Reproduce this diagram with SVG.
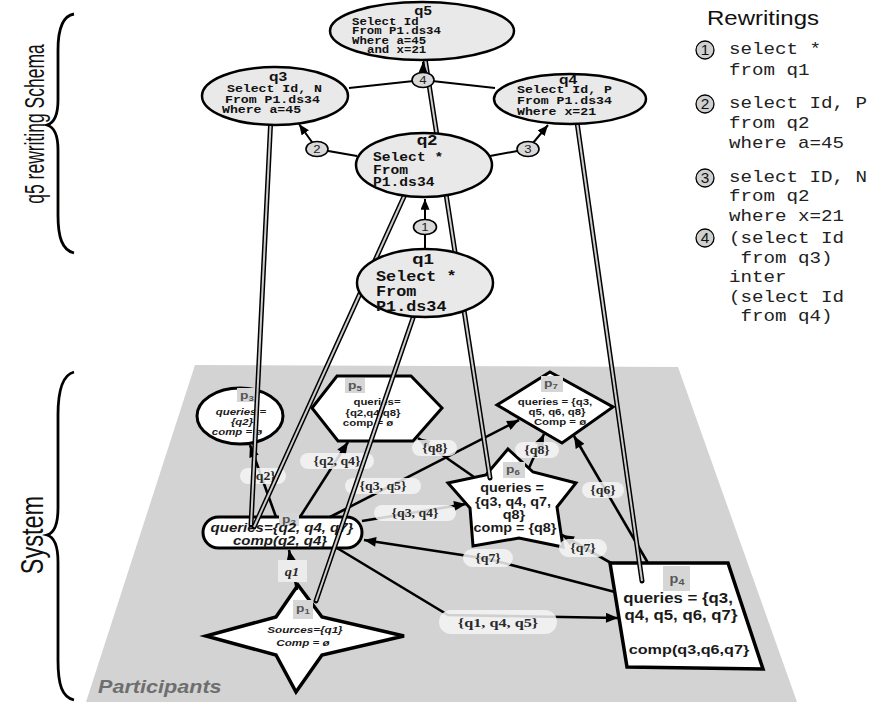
<svg xmlns="http://www.w3.org/2000/svg" width="874" height="702" viewBox="0 0 874 702">
<defs>
<marker id="ah" viewBox="0 0 12 10" refX="12" refY="5" markerWidth="13" markerHeight="10" markerUnits="userSpaceOnUse" orient="auto"><path d="M0,0 L12,5 L0,10 z" fill="#000"/></marker>
<marker id="ahq" viewBox="0 0 12 10" refX="12" refY="5" markerWidth="11" markerHeight="9" markerUnits="userSpaceOnUse" orient="auto"><path d="M0,0 L12,5 L0,10 z" fill="#000"/></marker>
</defs>
<style>
.mono{font-family:"Liberation Mono","Courier New",monospace;font-weight:bold;fill:#111}
.rw{font-family:"Liberation Mono","Courier New",monospace;font-size:16px;fill:#222}
.qt{font-family:"Liberation Sans",Arial,sans-serif;font-weight:bold;text-anchor:middle;fill:#111}
.side{font-family:"Liberation Sans",Arial,sans-serif;text-anchor:middle;fill:#111}
.nb{font-family:"Liberation Sans",Arial,sans-serif;font-weight:bold;text-anchor:middle;fill:#1a1a1a}
.it{font-style:italic}
.el{font-family:"Liberation Serif","Times New Roman",serif;font-weight:bold;text-anchor:middle;fill:#2a2a2a;font-size:11.5px}
.pill{fill:#f4f4f4;fill-opacity:0.85}
.edge{stroke:#000;stroke-width:2.6;fill:none}
.qe{stroke:#000;stroke-width:2;fill:none}
.node{fill:#fff;stroke:#000;stroke-width:3;stroke-linejoin:miter}
.qn{fill:#e9e9e9;stroke:#000;stroke-width:2.5}
.ro{stroke:#000;stroke-width:5;stroke-linecap:round;fill:none}
.ri{stroke:#cdcdcd;stroke-width:2;fill:none}
.lb{fill:#d6d6d6}
.lbt{font-family:"Liberation Sans",Arial,sans-serif;font-weight:bold;font-size:11.5px;fill:#555;text-anchor:middle}
.num{fill:#d9d9d9;stroke:#000;stroke-width:1.6}
.numt{font-family:"Liberation Sans",Arial,sans-serif;font-size:11px;text-anchor:middle;fill:#222}
.rnum{fill:#d0d0d0;stroke:#000;stroke-width:1.3}
.rnumt{font-family:"Liberation Sans",Arial,sans-serif;font-size:14px;text-anchor:middle;fill:#111}
</style>
<rect width="874" height="702" fill="#fff"/>

<!-- plane -->
<polygon points="195,365 678,367 797,702 86,702" fill="#d3d3d3"/>
<text transform="translate(98,693) scale(1.2,1)" style="font-family:'Liberation Sans',Arial,sans-serif;font-weight:bold;font-style:italic;font-size:18px;fill:#6e6e6e">Participants</text>

<!-- braces -->
<g id="braces" fill="none" stroke="#000" stroke-width="2.8">
<path d="M74,14 C62,16 58,30 58,50 L58,100 C58,115 54,123 47,125 C54,127 58,135 58,150 L58,215 C58,237 62,250 74,253"/>
<path d="M74,372 C62,375 58,392 58,415 L58,508 C58,524 54,533 47,535 C54,537 58,546 58,562 L58,660 C58,685 62,697 74,700"/>
</g>
<text class="side" transform="translate(44,124) scale(1.6,1) rotate(-90)" style="font-size:17.5px">q5 rewriting Schema</text>
<text class="side" transform="translate(43,535) scale(1.3,1) rotate(-90)" style="font-size:23.5px">System</text>

<!-- system nodes -->
<g id="p3">
<ellipse cx="240" cy="416" rx="43" ry="28" class="node"/>
<rect x="237" y="388" width="21" height="14" class="lb"/>
<text class="lbt" transform="translate(247,399) scale(1.2,1)">p<tspan font-size="8" dy="2">3</tspan></text>
<text class="nb it" transform="translate(241,415) scale(1.2,1)" style="font-size:9.5px">queries =</text>
<text class="nb it" transform="translate(242,425) scale(1.2,1)" style="font-size:9.5px">{q2}</text>
<text class="nb it" transform="translate(237,434.5) scale(1.2,1)" style="font-size:9.5px">comp = ø</text>
</g>
<g id="p5">
<polygon points="312,408 337,376 411,376 442,408 413,441 338,441" class="node"/>
<rect x="345" y="378" width="20" height="15" class="lb"/>
<text class="lbt" transform="translate(355,389) scale(1.2,1)">p<tspan font-size="8" dy="2">5</tspan></text>
<text class="nb" transform="translate(377,405) scale(1.2,1)" style="font-size:9.5px">queries=</text>
<text class="nb" transform="translate(373,416) scale(1.2,1)" style="font-size:9.5px">{q2,q4,q8}</text>
<text class="nb" transform="translate(368,426) scale(1.2,1)" style="font-size:9.5px">comp = ø</text>
</g>
<g id="p7">
<polygon points="550,372 613,407 562,443 497,405" class="node"/>
<rect x="541" y="376" width="22" height="16" class="lb"/>
<text class="lbt" transform="translate(551,387) scale(1.2,1)">p<tspan font-size="8" dy="2">7</tspan></text>
<text class="nb" transform="translate(555,405) scale(1.2,1)" style="font-size:9.5px">queries = {q3,</text>
<text class="nb" transform="translate(557,415) scale(1.2,1)" style="font-size:9.5px">q5, q6, q8}</text>
<text class="nb" transform="translate(560,425) scale(1.2,1)" style="font-size:9.5px">Comp = ø</text>
</g>
<g id="p6">
<polygon points="508,449 533,472 576,483 557,507 563,547 519,538 473,546 470,508 448,483 486,475" class="node"/>
<rect x="503" y="462" width="22" height="16" class="lb"/>
<text class="lbt" transform="translate(513,473) scale(1.2,1)">p<tspan font-size="8" dy="2">6</tspan></text>
<text class="nb" transform="translate(512,492) scale(1.2,1)" style="font-size:12px">queries =</text>
<text class="nb" transform="translate(513,506) scale(1.2,1)" style="font-size:12px">{q3, q4, q7,</text>
<text class="nb" transform="translate(514,519) scale(1.2,1)" style="font-size:12px">q8}</text>
<text class="nb" transform="translate(515,532) scale(1.2,1)" style="font-size:12px">comp = {q8}</text>
</g>
<g id="p2">
<rect x="203" y="517" width="159" height="31" rx="15.5" class="node"/>
<rect x="279" y="513" width="20" height="13" class="lb"/>
<text class="lbt" transform="translate(289,523) scale(1.2,1)">p<tspan font-size="8" dy="2">2</tspan></text>
<text class="nb it" transform="translate(282,531.5) scale(1.2,1)" style="font-size:12.5px">queries={q2, q4, q7}</text>
<text class="nb it" transform="translate(280,545) scale(1.2,1)" style="font-size:12.5px">comp(q2, q4}</text>
</g>
<g id="p1">
<polygon points="298,585 322,617 404,636 322,655 296,692 276,655 206,636 276,617" class="node" style="stroke-width:3.5"/>
<rect x="293" y="600" width="20" height="19" class="lb"/>
<text class="lbt" transform="translate(303,612) scale(1.2,1)">p<tspan font-size="8" dy="2">1</tspan></text>
<text class="nb it" transform="translate(305,632.5) scale(1.2,1)" style="font-size:9.7px">Sources={q1}</text>
<text class="nb it" transform="translate(303,645.5) scale(1.2,1)" style="font-size:9.7px">Comp = ø</text>
</g>
<g id="p4">
<polygon points="610,563 728,563 763,669 627,667" class="node" style="stroke-width:3.5"/>
<rect x="663" y="566" width="27" height="25" class="lb"/>
<text class="lbt" transform="translate(677,583) scale(1.2,1)" style="font-size:12px">p<tspan font-size="9" dy="2">4</tspan></text>
<text class="nb" transform="translate(678,603) scale(1.2,1)" style="font-size:14px">queries = {q3,</text>
<text class="nb" transform="translate(681,620) scale(1.2,1)" style="font-size:14px">q4, q5, q6, q7}</text>
<text class="nb" transform="translate(689,654) scale(1.2,1)" style="font-size:13.5px">comp(q3,q6,q7}</text>
</g>

<!-- system connectors -->
<g id="connectors">
<line x1="297" y1="590" x2="289" y2="550" class="edge" marker-end="url(#ah)"/>
<line x1="276" y1="517" x2="250" y2="445" class="edge" marker-end="url(#ah)"/>
<line x1="300" y1="517" x2="348" y2="442" class="edge" marker-end="url(#ah)"/>
<line x1="330" y1="517" x2="519" y2="420" class="edge" marker-end="url(#ah)"/>
<line x1="362" y1="521" x2="466" y2="504" class="edge" marker-end="url(#ah)"/>
<line x1="474" y1="477" x2="418" y2="438" class="edge" marker-end="url(#ah)"/>
<line x1="529" y1="468" x2="544" y2="434" class="edge" marker-end="url(#ah)"/>
<line x1="648" y1="563" x2="574" y2="436" class="edge" marker-end="url(#ah)"/>
<line x1="611" y1="563" x2="562" y2="535" class="edge" marker-end="url(#ah)"/>
<path d="M615,592 L488,559 L364,540" class="edge" marker-end="url(#ah)"/>
<path d="M337,548 L448,615 L618,618" class="edge" marker-end="url(#ah)"/>

<rect x="240" y="468" width="46" height="16" rx="8" class="pill"/>
<text class="el" transform="translate(263,480) scale(1.2,1)">{q2}</text>
<rect x="300" y="453" width="74" height="16" rx="8" class="pill"/>
<text class="el" transform="translate(337,465) scale(1.2,1)">{q2, q4}</text>
<rect x="345" y="478" width="76" height="16" rx="8" class="pill"/>
<text class="el" transform="translate(383,490) scale(1.2,1)">{q3, q5}</text>
<rect x="374" y="505" width="82" height="16" rx="8" class="pill"/>
<text class="el" transform="translate(415,517) scale(1.2,1)">{q3, q4}</text>
<rect x="412" y="440" width="45" height="16" rx="8" class="pill"/>
<text class="el" transform="translate(435,452) scale(1.2,1)">{q8}</text>
<rect x="515" y="442" width="44" height="16" rx="8" class="pill"/>
<text class="el" transform="translate(537,454) scale(1.2,1)">{q8}</text>
<rect x="582" y="482" width="42" height="16" rx="8" class="pill"/>
<text class="el" transform="translate(603,494) scale(1.2,1)">{q6}</text>
<rect x="559" y="539" width="48" height="18" rx="9" class="pill"/>
<text class="el" transform="translate(583,552) scale(1.2,1)">{q7}</text>
<rect x="463" y="549" width="50" height="18" rx="9" class="pill"/>
<text class="el" transform="translate(488,562) scale(1.2,1)">{q7}</text>
<rect x="439" y="610" width="118" height="24" rx="12" class="pill"/>
<text class="el" transform="translate(498,627) scale(1.2,1)" style="font-size:13.5px">{q1, q4, q5}</text>
<rect x="278" y="560" width="29" height="22" fill="#ececec"/>
<text class="el it" transform="translate(292,576) scale(1.2,1)" style="font-size:12px">q1</text>
</g>

<!-- rails -->
<g id="rails">
<line x1="271" y1="115" x2="251" y2="525" class="ro"/><line x1="271" y1="115" x2="251" y2="525" class="ri"/>
<line x1="407" y1="190" x2="254" y2="527" class="ro"/><line x1="407" y1="190" x2="254" y2="527" class="ri"/>
<line x1="413" y1="318" x2="316" y2="601" class="ro"/><line x1="413" y1="318" x2="316" y2="601" class="ri"/>
<line x1="424" y1="52" x2="490" y2="478" class="ro"/><line x1="424" y1="52" x2="490" y2="478" class="ri"/>
<line x1="576" y1="115" x2="642" y2="581" class="ro"/><line x1="576" y1="115" x2="642" y2="581" class="ri"/>
</g>

<!-- schema connectors -->
<g id="schema-connectors">
<line x1="425" y1="250" x2="425" y2="199" class="qe" marker-end="url(#ahq)"/>
<polyline points="357,156 317,149 299,124" class="qe" marker-end="url(#ahq)"/>
<polyline points="490,156 528,149 548,125" class="qe" marker-end="url(#ahq)"/>
<polyline points="349,88 423,80 495,88" class="qe"/>
<line x1="423" y1="76" x2="423" y2="62" class="qe" marker-end="url(#ahq)"/>
</g>

<!-- schema nodes -->
<g id="q5">
<ellipse cx="422" cy="31" rx="92" ry="29" class="qn"/>
<text class="qt" transform="translate(423,14.5) scale(1.2,1)" style="font-size:12.5px">q5</text>
<text class="mono" transform="translate(352,25) scale(1.2,1)" style="font-size:10.3px">Select Id</text>
<text class="mono" transform="translate(352,34) scale(1.2,1)" style="font-size:10.3px">From P1.ds34</text>
<text class="mono" transform="translate(352,43.5) scale(1.2,1)" style="font-size:10.3px">Where a=45</text>
<text class="mono" transform="translate(367,52.5) scale(1.2,1)" style="font-size:10.3px">and x=21</text>
</g>
<g id="q3">
<ellipse cx="275" cy="96" rx="73" ry="29" class="qn"/>
<text class="qt" transform="translate(278,81) scale(1.2,1)" style="font-size:13px">q3</text>
<text class="mono" transform="translate(227,91.5) scale(1.2,1)" style="font-size:11px">Select Id, N</text>
<text class="mono" transform="translate(225,102.5) scale(1.2,1)" style="font-size:11px">From P1.ds34</text>
<text class="mono" transform="translate(222,113) scale(1.2,1)" style="font-size:11px">Where a=45</text>
</g>
<g id="q4">
<ellipse cx="570" cy="99" rx="76" ry="25" class="qn"/>
<text class="qt" transform="translate(568,84) scale(1.2,1)" style="font-size:13px">q4</text>
<text class="mono" transform="translate(517,93) scale(1.2,1)" style="font-size:11px">Select Id, P</text>
<text class="mono" transform="translate(517,104) scale(1.2,1)" style="font-size:11px">From P1.ds34</text>
<text class="mono" transform="translate(517,115) scale(1.2,1)" style="font-size:11px">Where x=21</text>
</g>
<g id="q2">
<ellipse cx="424" cy="165" rx="68" ry="32" class="qn"/>
<text class="qt" transform="translate(427,145) scale(1.2,1)" style="font-size:14.5px">q2</text>
<text class="mono" transform="translate(373,161) scale(1.2,1)" style="font-size:12.2px">Select *</text>
<text class="mono" transform="translate(373,173.5) scale(1.2,1)" style="font-size:12.2px">From</text>
<text class="mono" transform="translate(373,186) scale(1.2,1)" style="font-size:12.2px">P1.ds34</text>
</g>
<g id="q1">
<ellipse cx="425" cy="283" rx="68" ry="34" class="qn"/>
<text class="qt" transform="translate(423,264) scale(1.2,1)" style="font-size:15.5px">q1</text>
<text class="mono" transform="translate(376,281) scale(1.2,1)" style="font-size:14px">Select *</text>
<text class="mono" transform="translate(376,295.5) scale(1.2,1)" style="font-size:14px">From</text>
<text class="mono" transform="translate(376,311) scale(1.2,1)" style="font-size:14px">P1.ds34</text>
</g>
<g id="rewrite-labels">
<ellipse cx="425" cy="227" rx="11.5" ry="7.5" class="num"/>
<text class="numt" transform="translate(425,231) scale(1.2,1)">1</text>
<ellipse cx="317" cy="149" rx="11" ry="7.5" class="num"/>
<text class="numt" transform="translate(317,153) scale(1.2,1)">2</text>
<ellipse cx="528" cy="149" rx="11" ry="7.5" class="num"/>
<text class="numt" transform="translate(528,153) scale(1.2,1)">3</text>
<ellipse cx="423" cy="80" rx="11" ry="7.5" class="num"/>
<text class="numt" transform="translate(423,84) scale(1.2,1)">4</text>
</g>

<!-- rewritings legend -->
<g id="rewritings">
<text transform="translate(707,25) scale(1.2,1)" style="font-family:'Liberation Sans',Arial,sans-serif;font-size:20px;fill:#111">Rewritings</text>
<circle cx="705" cy="50" r="9" class="rnum"/><text class="rnumt" transform="translate(705,55) scale(1.1,1)">1</text>
<circle cx="705" cy="104" r="9" class="rnum"/><text class="rnumt" transform="translate(705,109) scale(1.1,1)">2</text>
<circle cx="705" cy="178" r="9" class="rnum"/><text class="rnumt" transform="translate(705,183) scale(1.1,1)">3</text>
<circle cx="705" cy="238" r="9" class="rnum"/><text class="rnumt" transform="translate(705,243) scale(1.1,1)">4</text>
<text class="rw" transform="translate(729,54) scale(1.2,1)">select *</text>
<text class="rw" transform="translate(729,75) scale(1.2,1)">from q1</text>
<text class="rw" transform="translate(729,108) scale(1.2,1)">select Id, P</text>
<text class="rw" transform="translate(729,128) scale(1.2,1)">from q2</text>
<text class="rw" transform="translate(729,148) scale(1.2,1)">where a=45</text>
<text class="rw" transform="translate(729,182) scale(1.2,1)">select ID, N</text>
<text class="rw" transform="translate(729,201) scale(1.2,1)">from q2</text>
<text class="rw" transform="translate(729,221) scale(1.2,1)">where x=21</text>
<text class="rw" transform="translate(729,243) scale(1.2,1)">(select Id</text>
<text class="rw" transform="translate(740.5,263) scale(1.2,1)">from q3)</text>
<text class="rw" transform="translate(729,282) scale(1.2,1)">inter</text>
<text class="rw" transform="translate(729,302) scale(1.2,1)">(select Id</text>
<text class="rw" transform="translate(740.5,321) scale(1.2,1)">from q4)</text>
</g>
</svg>
